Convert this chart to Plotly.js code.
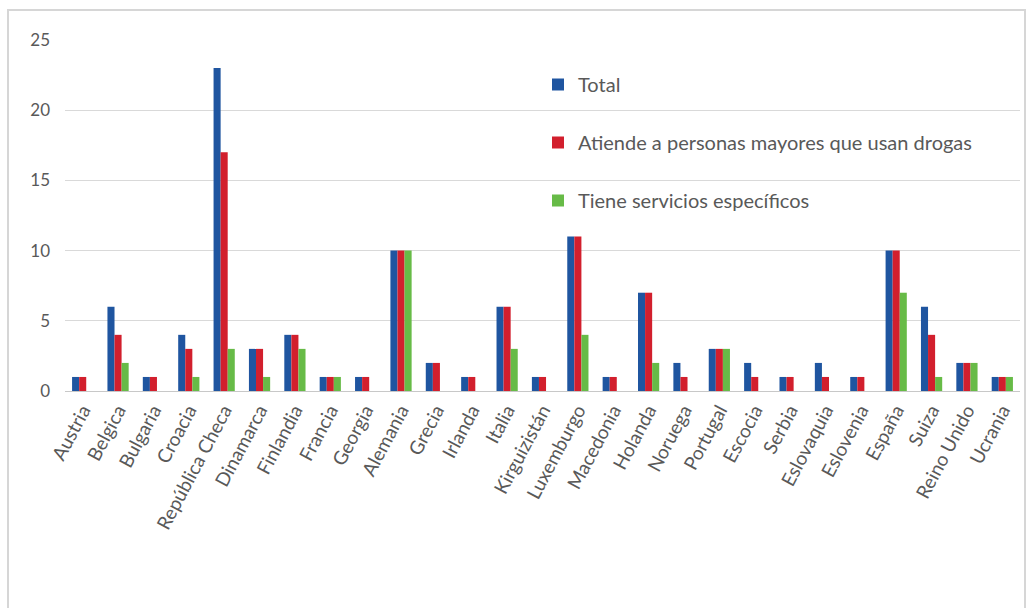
<!DOCTYPE html>
<html>
<head>
<meta charset="utf-8">
<script src="https://cdn.plot.ly/plotly-3.0.1.min.js"></script>
<style>
html,body{margin:0;padding:0;background:#fff;}
#chart{width:1032px;height:608px;}
</style>
</head>
<body>
<div id="chart"></div>
<script>
const categories = ["Austria","Belgica","Bulgaria","Croacia","República Checa","Dinamarca","Finlandia","Francia","Georgia","Alemania","Grecia","Irlanda","Italia","Kirguizistán","Luxemburgo","Macedonia","Holanda","Noruega","Portugal","Escocia","Serbia","Eslovaquia","Eslovenia","España","Suiza","Reino Unido","Ucrania"];
const total     = [1,6,1,4,23,3,4,1,1,10,2,1,6,1,11,1,7,2,3,2,1,2,1,10,6,2,1];
const atiende   = [1,4,1,3,17,3,4,1,1,10,2,1,6,1,11,1,7,1,3,1,1,1,1,10,4,2,1];
const servicios = [0,2,0,1,3,1,3,1,0,10,0,0,3,0,4,0,2,0,3,0,0,0,0,7,1,2,1];
const seriesNames = ["Total","Atiende a personas mayores que usan drogas","Tiene servicios específicos"];
const seriesColors = ["#1f55a0","#d21f2d","#67bb47"];

const seriesData = [total, atiende, servicios];
const traces = seriesData.map((vals, i) => ({
  type: 'bar',
  x: categories,
  y: vals,
  name: seriesNames[i],
  legendgroup: 'g' + i,
  marker: {color: seriesColors[i], line: {width: 0}},
  hoverinfo: 'x+y+name'
}));

const ml = 65, mr = 12, mt = 40, mb = 217;
const pw = 1032 - ml - mr, ph = 608 - mt - mb;
const px2x = p => (p - ml) / pw;
const px2y = p => (608 - mb - p) / ph;

const layout = {
  width: 1032,
  height: 608,
  margin: {l: ml, r: mr, t: mt, b: mb, pad: 0},
  paper_bgcolor: '#ffffff',
  plot_bgcolor: '#ffffff',
  font: {family: 'Lato, "Open Sans", sans-serif', color: '#595959', size: 14},
  barmode: 'group',
  bargap: 0.4,
  bargroupgap: 0,
  showlegend: true,
  legend: {
    x: px2x(538), y: px2y(65), xanchor: 'left', yanchor: 'top',
    bgcolor: 'rgba(0,0,0,0)',
    font: {size: 20, color: '#595959'},
    traceorder: 'grouped',
    tracegroupgap: 29,
    itemwidth: 30
  },
  xaxis: {
    type: 'category',
    tickangle: -62,
    showgrid: false,
    showline: true,
    linecolor: '#c8c8c8',
    linewidth: 1,
    ticks: '',
    tickfont: {size: 19, color: '#595959'},
    zeroline: false,
    fixedrange: true
  },
  yaxis: {
    range: [0, 25],
    dtick: 5,
    tick0: 0,
    showgrid: true,
    gridcolor: '#d9d9d9',
    gridwidth: 1,
    zeroline: false,
    showline: false,
    ticks: '',
    ticklabelstandoff: 14,
    tickfont: {size: 17, color: '#595959'},
    fixedrange: true
  },
  shapes: [{
    type: 'rect', xref: 'paper', yref: 'paper',
    x0: px2x(8), x1: px2x(1025), y0: px2y(640), y1: px2y(10),
    line: {color: '#d6d6d6', width: 2},
    fillcolor: 'rgba(0,0,0,0)',
    layer: 'below'
  }]
};

Plotly.newPlot('chart', traces, layout, {displayModeBar: false, staticPlot: true});
</script>
</body>
</html>
